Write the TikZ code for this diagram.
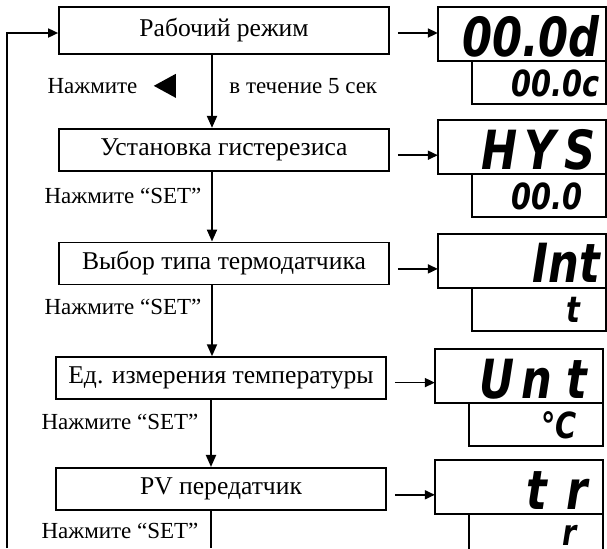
\documentclass[tikz,border=0pt]{standalone}
\usepackage{fontspec}
\setmainfont{Liberation Serif}
\newfontfamily\lcdfont[FakeStretch=0.8]{DejaVu Sans}
\usetikzlibrary{arrows.meta, positioning}
\newcommand{\lcdcell}[1]{\makebox[20pt][c]{#1}}
\tikzset{
    base/.style={draw, line width=0.85pt, align=center, font=\fontsize{12.8}{15}\selectfont},
    stage/.style={base, rectangle, minimum width=165pt, minimum height=21pt},
    lcd/.style={draw, line width=0.85pt, outer sep=0pt, inner ysep=0pt, inner xsep=3pt, align=right, text depth=0pt},
    lcdbig/.style={lcd, minimum height=27pt, text width=78pt, text height=22pt, font=\lcdfont\bfseries\itshape\fontsize{27}{27}\selectfont},
    lcdsmall/.style={lcd, minimum height=21.5pt, text width=61pt, text height=15pt, text depth=1.5pt, font=\lcdfont\bfseries\itshape\fontsize{18}{18}\selectfont},
    lbl/.style={inner sep=0pt, font=\fontsize{11.5}{13}\selectfont},
    arrow/.style={-{Triangle[length=6pt,width=5pt]}, line width=1pt},
    showarrow/.style={-{Triangle[length=5pt,width=4.5pt]}, line width=0.85pt}
}

\begin{document}
\begin{tikzpicture}[x=0.5pt, y=-0.5pt]
    \useasboundingbox (0,0) rectangle (607,548);
    \clip (0,0) rectangle (607,548);

    % menu stages
    \node (work) [stage, minimum height=23.5pt] at (224,30.5) {Рабочий режим};
    \node (hyst) [stage, below=36.5pt of work] {Установка гистерезиса};
    \node (sensor) [stage, below=35pt of hyst] {Выбор типа термодатчика};
    \node (unit) [stage, below=35.5pt of sensor, xshift=-1.5pt] {Ед. измерения температуры};
    \node (pv) [stage, below=33.5pt of unit] {PV передатчик};

    % displays
    \node (workD) [lcdbig, right=24pt of work, yshift=-1.75pt] {00.0d};
    \node (workS) [lcdsmall, anchor=north east] at (workD.south east) {00.0c};
    \node (hystD) [lcdbig, right=24pt of hyst, yshift=1.25pt] {\lcdcell{H}\lcdcell{Y}\lcdcell{S}};
    \node (hystS) [lcdsmall, anchor=north east] at (hystD.south east) {00.0\phantom{c}};
    \node (sensorD) [lcdbig, right=24pt of sensor, yshift=1.25pt] {Int};
    \node (sensorS) [lcdsmall, anchor=north east] at (sensorD.south east) {t\phantom{0}};
    \node (unitD) [lcdbig, right=24pt of unit, yshift=1pt] {\lcdcell{U}\lcdcell{n}\lcdcell{t}};
    \node (unitS) [lcdsmall, anchor=north east] at (unitD.south east) {°C\phantom{0}};
    \node (pvD) [lcdbig, right=24pt of pv, yshift=0.75pt] {\lcdcell{t}\lcdcell{r}};
    \node (pvS) [lcdsmall, text depth=5pt, anchor=north east] at (pvD.south east) {r\phantom{0}};

    % key labels
    \node (press1) [lbl, anchor=west] at ([xshift=-5.5pt,yshift=-15.5pt]work.south west) {Нажмите};
    \coordinate [right=8pt of press1] (btn);
    \fill (btn) -- ++(11pt,6pt) -- ++(0,-12pt) -- cycle;
    \node (hold) [lbl, anchor=west] at ([xshift=2.5pt,yshift=-15.5pt]work.south) {в течение 5 сек};
    \node (press2) [lbl, anchor=west] at ([xshift=-7pt,yshift=-12pt]hyst.south west) {Нажмите “SET”};
    \node (press3) [lbl, anchor=west] at ([xshift=-7pt,yshift=-11pt]sensor.south west) {Нажмите “SET”};
    \node (press4) [lbl, anchor=west] at ([xshift=-7pt,yshift=-11pt]unit.south west) {Нажмите “SET”};
    \node (press5) [lbl, anchor=west] at ([xshift=-7pt,yshift=-10pt]pv.south west) {Нажмите “SET”};

    % flow
    \draw [arrow] ([xshift=-6pt]work.south) -- ([xshift=-6pt]hyst.north);
    \draw [arrow] ([xshift=-6pt]hyst.south) -- ([xshift=-6pt]sensor.north);
    \draw [arrow] ([xshift=-6pt]sensor.south) -- ([xshift=-6pt]sensor.south |- unit.north);
    \draw [arrow] ([xshift=-5pt]unit.south) -- ([xshift=-5pt]pv.north);
    \coordinate (loopIn) at (7,548);
    \coordinate (pvOut) at ([xshift=-5pt]pv.south |- loopIn);
    \draw [line width=0.7pt] ([xshift=-5pt]pv.south) -- (pvOut);
    \draw [showarrow] (loopIn) |- ([yshift=-1.25pt]work.west);

    % to displays
    \draw [showarrow] ([xshift=4pt,yshift=-1.25pt]work.east) -- ([yshift=-1.25pt]work.east -| workD.west);
    \draw [showarrow] ([xshift=4pt,yshift=-2.75pt]hyst.east) -- ([yshift=-2.75pt]hyst.east -| hystD.west);
    \draw [showarrow] ([xshift=4pt,yshift=-2.75pt]sensor.east) -- ([yshift=-2.75pt]sensor.east -| sensorD.west);
    \draw [showarrow] ([xshift=4pt,yshift=-2.25pt]unit.east) -- ([yshift=-2.25pt]unit.east -| unitD.west);
    \draw [showarrow] ([xshift=4pt,yshift=-3pt]pv.east) -- ([yshift=-3pt]pv.east -| pvD.west);
\end{tikzpicture}
\end{document}
